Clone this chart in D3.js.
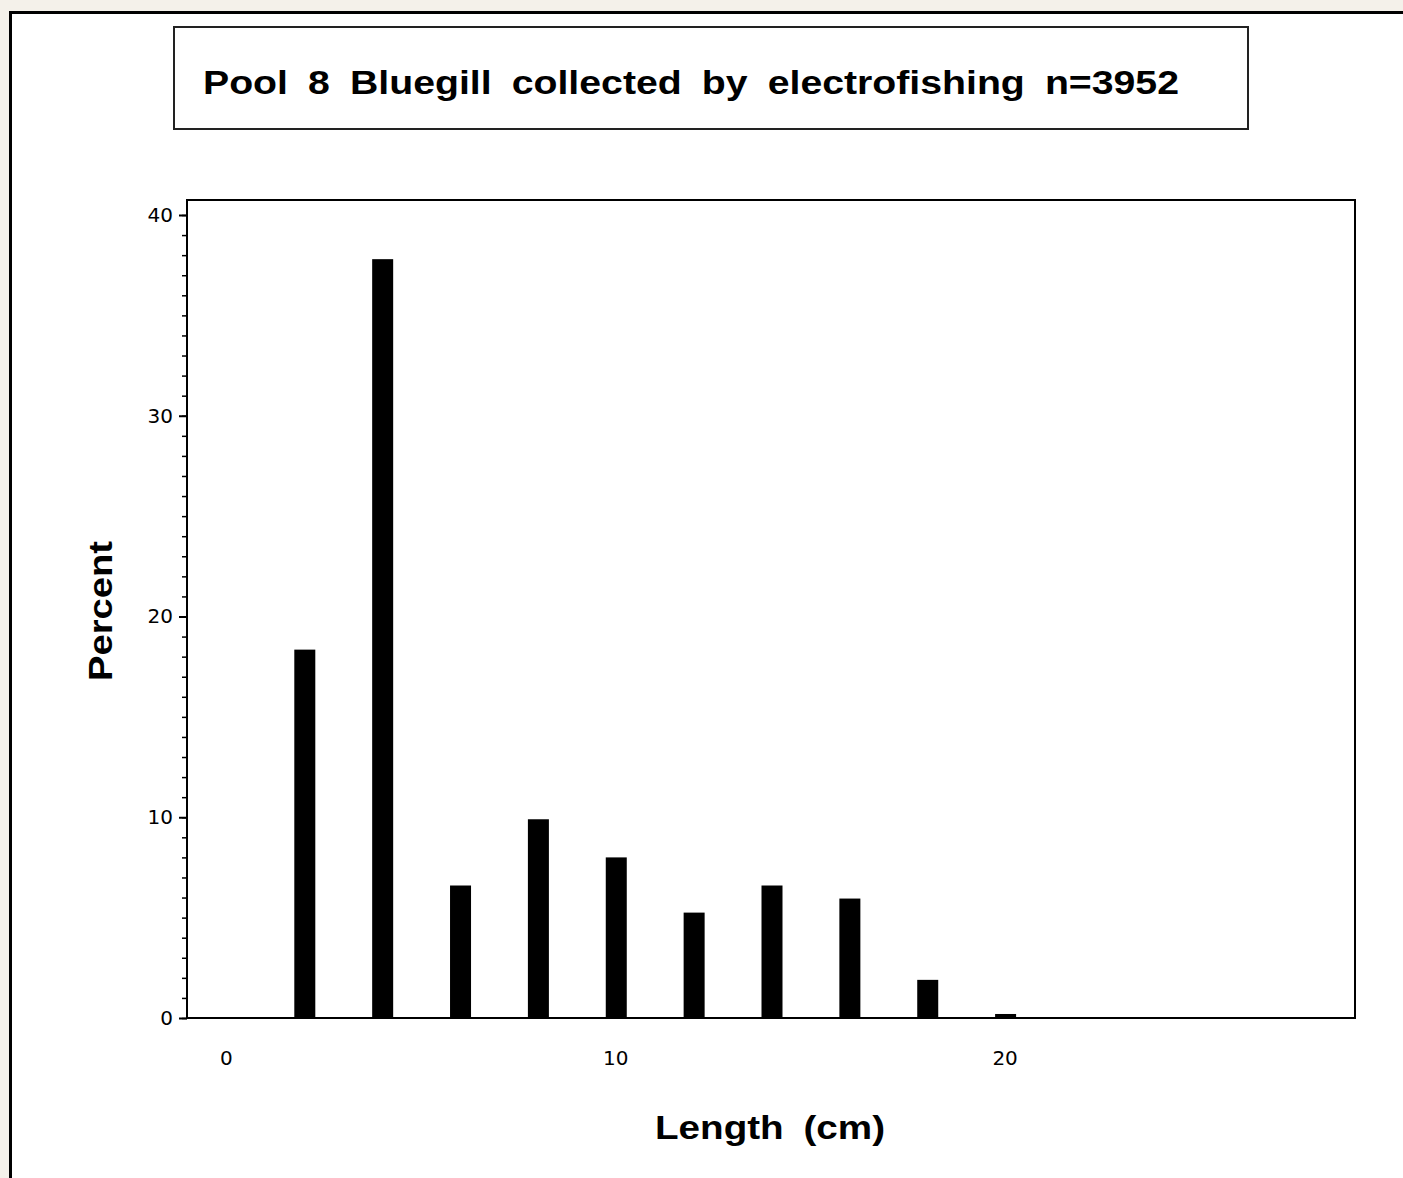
<!DOCTYPE html>
<html>
<head>
<meta charset="utf-8">
<script src="https://cdn.jsdelivr.net/npm/d3@7"></script>
<style>
  html, body { margin: 0; padding: 0; background: #f4f1ea; }
  svg { display: block; }
</style>
</head>
<body>
<script>
// ---- data ----
const titleText = "Pool 8 Bluegill collected by electrofishing n=3952";
const xLabel = "Length (cm)";
const yLabel = "Percent";
const lengths = [2, 4, 6, 8, 10, 12, 14, 16, 18, 20];
const percents = [18.35, 37.8, 6.6, 9.9, 8.0, 5.25, 6.6, 5.95, 1.9, 0.2];
const xTicks = [0, 10, 20];
const yTicks = [0, 10, 20, 30, 40];
const yMinorTicks = d3.range(0, 41, 1);

const W = 1403, H = 1178;
const svg = d3.select("body").append("svg").attr("width", W).attr("height", H);

// outer background and white panel
svg.append("rect").attr("x", 0).attr("y", 0).attr("width", W).attr("height", H).attr("fill", "#f4f1ea");
svg.append("rect").attr("x", 10).attr("y", 12).attr("width", W).attr("height", H).attr("fill", "#ffffff");
svg.append("path").attr("d", `M10.5,${H} V12.5 H${W}`).attr("fill", "none").attr("stroke", "#000").attr("stroke-width", 3);

const font = "'Liberation Sans', Arial, sans-serif";
const tickFont = "'DejaVu Sans', Arial, sans-serif";

// title box
svg.append("rect").attr("x", 174).attr("y", 27).attr("width", 1074).attr("height", 102)
  .attr("fill", "none").attr("stroke", "#222").attr("stroke-width", 2);
svg.append("text").attr("x", 203).attr("y", 94)
  .attr("font-family", font).attr("font-weight", "bold").attr("font-size", 34)
  .attr("word-spacing", 8)
  .attr("textLength", 976).attr("lengthAdjust", "spacingAndGlyphs")
  .attr("fill", "#000").text(titleText);

// scales
const plot = { left: 187, right: 1355, top: 200, bottom: 1018 };
const x = d3.scaleLinear().domain([-1, 29]).range([plot.left, plot.right]);
const y = d3.scaleLinear().domain([0, 40]).range([1018, 215]);

// bars
const barW = 21;
svg.append("g").selectAll("rect").data(lengths).join("rect")
  .attr("x", (d) => x(d) - barW / 2 + 1)
  .attr("width", barW)
  .attr("y", (d, i) => y(percents[i]))
  .attr("height", (d, i) => y(0) - y(percents[i]))
  .attr("fill", "#000");

// frame
svg.append("rect").attr("x", plot.left).attr("y", plot.top)
  .attr("width", plot.right - plot.left).attr("height", plot.bottom - plot.top)
  .attr("fill", "none").attr("stroke", "#000").attr("stroke-width", 2);

// y axis: minor ticks
const yMinor = d3.axisLeft(y).tickValues(yMinorTicks).tickSize(5).tickFormat("");
const gMinor = svg.append("g").attr("transform", `translate(${plot.left},0)`).call(yMinor);
gMinor.select(".domain").remove();
gMinor.selectAll("line").attr("stroke", "#000").attr("stroke-width", 1.5);

// y axis: major ticks
const yAxis = d3.axisLeft(y).tickValues(yTicks).tickSize(8).tickPadding(6).tickFormat(d3.format("d"));
const gy = svg.append("g").attr("transform", `translate(${plot.left},0)`).call(yAxis);
gy.select(".domain").remove();
gy.selectAll("line").attr("stroke", "#000").attr("stroke-width", 2);
gy.selectAll("text").attr("font-family", tickFont).attr("font-size", 20).attr("fill", "#000");

// x axis: labels only
const xAxis = d3.axisBottom(x).tickValues(xTicks).tickSize(0).tickPadding(33).tickFormat(d3.format("d"));
const gx = svg.append("g").attr("transform", `translate(0,${plot.bottom})`).call(xAxis);
gx.select(".domain").remove();
gx.selectAll("text").attr("font-family", tickFont).attr("font-size", 20).attr("fill", "#000");

// axis labels
svg.append("text").attr("x", 655).attr("y", 1139)
  .attr("font-family", font).attr("font-weight", "bold").attr("font-size", 34)
  .attr("word-spacing", 8)
  .attr("textLength", 230).attr("lengthAdjust", "spacingAndGlyphs")
  .attr("fill", "#000").text(xLabel);

svg.append("text").attr("transform", "translate(112,611) rotate(-90)").attr("text-anchor", "middle")
  .attr("font-family", font).attr("font-weight", "bold").attr("font-size", 34)
  .attr("textLength", 140).attr("lengthAdjust", "spacingAndGlyphs")
  .attr("fill", "#000").text(yLabel);
</script>
</body>
</html>
